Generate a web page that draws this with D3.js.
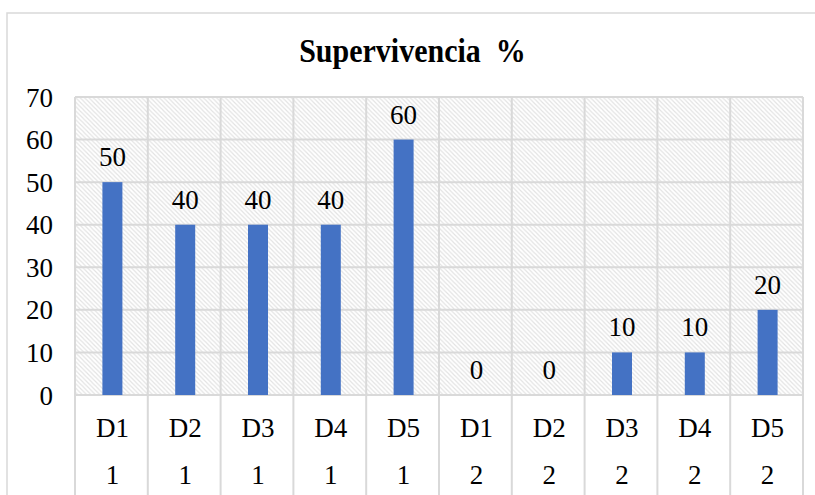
<!DOCTYPE html>
<html>
<head>
<meta charset="utf-8">
<script src="https://cdn.jsdelivr.net/npm/d3@7"></script>
<style>
  html, body { margin: 0; padding: 0; background: #ffffff; }
  svg { display: block; }
</style>
</head>
<body>
<svg id="chart" width="815" height="495"></svg>
<script>
// ---- data ----
const title = "Supervivencia\u00a0\u00a0%";
const doseLabels = ["D1", "D2", "D3", "D4", "D5", "D1", "D2", "D3", "D4", "D5"];
const groupLabels = ["1", "1", "1", "1", "1", "2", "2", "2", "2", "2"];
const survival = [50, 40, 40, 40, 60, 0, 0, 10, 10, 20];
const yTicks = [0, 10, 20, 30, 40, 50, 60, 70];

// ---- layout ----
const W = 815, H = 495;
const plot = { left: 75, right: 803, top: 97, bottom: 395 };
const gridColor = "#d9d9d9";
const barColor = "#4472c4";
const FONT = '"Liberation Serif"';

const svg = d3.select("#chart");
const keys = d3.range(survival.length);

const x = d3.scaleBand().domain(keys).range([plot.left, plot.right]).paddingInner(0).paddingOuter(0);
const y = d3.scaleLinear().domain([0, 70]).range([plot.bottom, plot.top]);

// outer chart border
svg.append("rect")
  .attr("x", 7).attr("y", 13)
  .attr("width", W + 20).attr("height", H + 20)
  .attr("fill", "#fff").attr("stroke", gridColor).attr("stroke-width", 1.5);

// hatch pattern
const defs = svg.append("defs");
const pat = defs.append("pattern")
  .attr("id", "hatch").attr("patternUnits", "userSpaceOnUse")
  .attr("width", 4.4).attr("height", 4.4);
pat.append("rect").attr("width", 4.4).attr("height", 4.4).attr("fill", "#ffffff");
pat.append("path")
  .attr("d", "M-1.1,-1.1 L5.5,5.5 M-1.1,3.3 L1.1,5.5 M3.3,-1.1 L5.5,1.1")
  .attr("stroke", "#e2e2e2").attr("stroke-width", 1.1);

svg.append("rect")
  .attr("x", plot.left).attr("y", plot.top)
  .attr("width", plot.right - plot.left).attr("height", plot.bottom - plot.top)
  .attr("fill", "url(#hatch)");

// horizontal gridlines
svg.append("g").selectAll("line").data(yTicks).join("line")
  .attr("x1", plot.left).attr("x2", plot.right)
  .attr("y1", d => y(d)).attr("y2", d => y(d))
  .attr("stroke", gridColor).attr("stroke-width", 2);

// vertical gridlines / category separators (extend through label rows)
const sepX = keys.map(k => x(k)).concat([plot.right]);
svg.append("g").selectAll("line").data(sepX).join("line")
  .attr("x1", d => d).attr("x2", d => d)
  .attr("y1", plot.top).attr("y2", H + 5)
  .attr("stroke", gridColor).attr("stroke-width", 2);

// bars
const barW = 20;
svg.append("g").selectAll("rect").data(survival).join("rect")
  .attr("x", (d, i) => x(i) + x.bandwidth() / 2 - barW / 2 + 1)
  .attr("y", d => y(d))
  .attr("width", barW)
  .attr("height", d => y(0) - y(d))
  .attr("fill", barColor);

function txt(sel) {
  return sel.style("font-family", FONT).attr("fill", "#000");
}

// data labels
txt(svg.append("g").selectAll("text").data(survival).join("text"))
  .attr("x", (d, i) => x(i) + x.bandwidth() / 2 + 1)
  .attr("y", d => y(d) - 16)
  .attr("text-anchor", "middle")
  .attr("font-size", 27)
  .text(d => d);

// y axis labels
txt(svg.append("g").selectAll("text").data(yTicks).join("text"))
  .attr("x", 53)
  .attr("y", d => y(d) + 9.5)
  .attr("text-anchor", "end")
  .attr("font-size", 27)
  .text(d => d);

// category labels
txt(svg.append("g").selectAll("text").data(doseLabels).join("text"))
  .attr("x", (d, i) => x(i) + x.bandwidth() / 2 + 1)
  .attr("y", 437)
  .attr("text-anchor", "middle")
  .attr("font-size", 27)
  .text(d => d);

txt(svg.append("g").selectAll("text").data(groupLabels).join("text"))
  .attr("x", (d, i) => x(i) + x.bandwidth() / 2 + 1)
  .attr("y", 484)
  .attr("text-anchor", "middle")
  .attr("font-size", 27)
  .text(d => d);

// title
txt(svg.append("text"))
  .attr("transform", "translate(412.5,62) scale(1,1.12)")
  .attr("text-anchor", "middle")
  .attr("font-size", 30)
  .attr("font-weight", "bold")
  .text(title);
</script>
</body>
</html>
